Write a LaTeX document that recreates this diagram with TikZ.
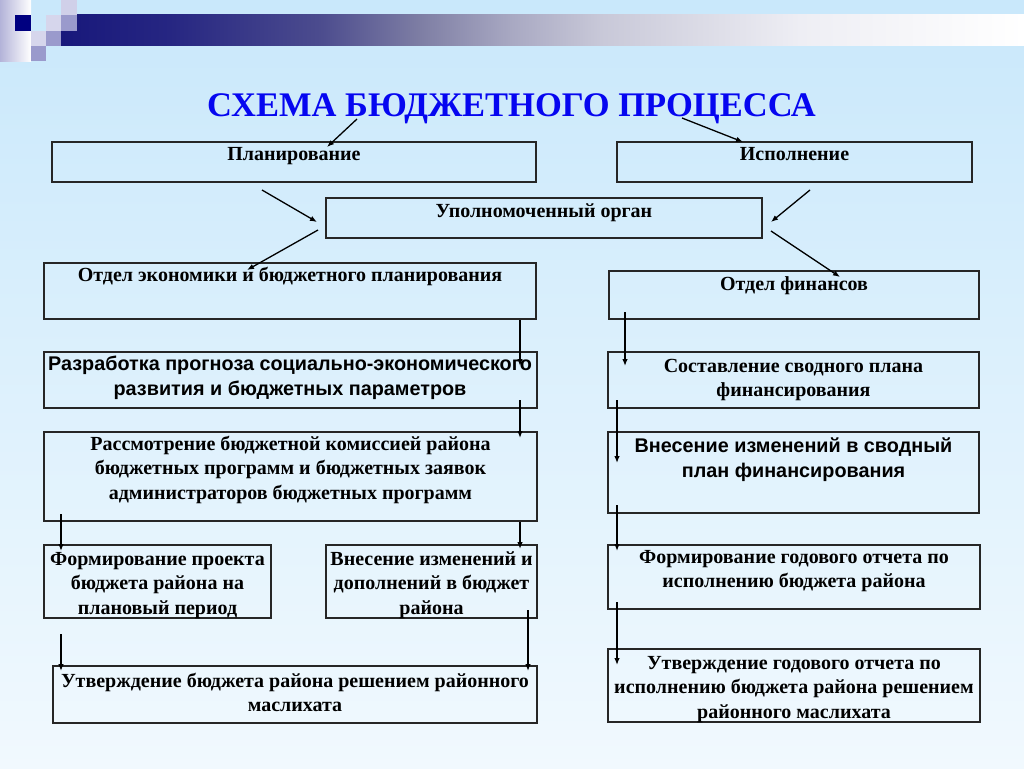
\documentclass[tikz,border=0pt]{standalone}
\usepackage{fontspec}
\setmainfont{Liberation Serif}
\newfontfamily\arialf{Liberation Sans}
\usetikzlibrary{arrows.meta}
\definecolor{bgtop}{HTML}{C9E8FB}
\definecolor{bgbot}{HTML}{F1F9FE}
\definecolor{navy}{HTML}{000080}
\definecolor{titleblue}{HTML}{0606F0}
\definecolor{sqlight}{HTML}{D6D6EC}
\definecolor{sqmid}{HTML}{9A9ACC}
\definecolor{gA}{HTML}{18187B}
\definecolor{gB}{HTML}{262682}
\definecolor{gC}{HTML}{4C4C8E}
\definecolor{gD}{HTML}{7E7EA4}
\definecolor{gE}{HTML}{A8A8C2}
\definecolor{gF}{HTML}{C8C8D8}
\definecolor{gG}{HTML}{EEEEF4}
\tikzset{
  box/.style={draw=black!85, line width=1.4pt, anchor=north west, inner sep=0pt, outer sep=0pt},
  txt/.style={anchor=north, inner sep=0pt, align=center, text=black,
    font=\bfseries\fontsize{20}{24.5}\selectfont},
  atxt/.style={txt, font=\arialf\bfseries\fontsize{19.8}{25}\selectfont},
  arr/.style={-{Latex[length=7pt,width=5.5pt]}, line width=1.3pt, draw=black},
}
\begin{document}
\begin{tikzpicture}[x=1pt,y=-1pt]
% background
\shade[top color=bgtop, bottom color=bgbot] (0,0) rectangle (1024,768);
\useasboundingbox (0,0) rectangle (1024,768);
% decoration: top bar
\shade[left color=gA, right color=gB] (61,15) rectangle (170.5,46);
\shade[left color=gB, right color=gC] (170,15) rectangle (320.5,46);
\shade[left color=gC, right color=gD] (320,15) rectangle (420.5,46);
\shade[left color=gD, right color=gE] (420,15) rectangle (510.5,46);
\shade[left color=gE, right color=gF] (510,15) rectangle (600.5,46);
\shade[left color=gF, right color=gG] (600,15) rectangle (800.5,46);
\shade[left color=gG, right color=white] (800,15) rectangle (1024,46);
% decoration: squares
\shade[left color=sqmid!75!white, right color=white] (0,0) rectangle (31,61);
\fill[navy] (15,15) rectangle (31,31);
\fill[sqlight] (31,31) rectangle (46,46);
\fill[sqmid] (31,46) rectangle (46,61);
\fill[sqlight] (46,15) rectangle (61,31);
\fill[sqmid] (46,31) rectangle (61,46);
\fill[sqlight!90!sqmid] (61,0) rectangle (77,15);
\fill[sqmid] (61,15) rectangle (77,31);
% title
\node[anchor=base, inner sep=0pt, text=titleblue, font=\bfseries\fontsize{34.5}{40}\selectfont] (title) at (511.5,116) {СХЕМА БЮДЖЕТНОГО ПРОЦЕССА};
% boxes
\node[box, minimum width=484pt, minimum height=40pt] (plan) at (52,142) {};
\node[box, minimum width=355pt, minimum height=40pt] (exec) at (617,142) {};
\node[box, minimum width=436pt, minimum height=40pt] (auth) at (326,198) {};
\node[box, minimum width=492pt, minimum height=56pt] (econ) at (44,263) {};
\node[box, minimum width=370pt, minimum height=48pt] (fin) at (609,271) {};
\node[box, minimum width=493pt, minimum height=56pt] (razr) at (44,352) {};
\node[box, minimum width=493pt, minimum height=89pt] (rass) at (44,432) {};
\node[box, minimum width=371pt, minimum height=56pt] (sost) at (608,352) {};
\node[box, minimum width=371pt, minimum height=81pt] (vnsv) at (608,432) {};
\node[box, minimum width=227pt, minimum height=73pt] (form) at (44,545) {};
\node[box, minimum width=211pt, minimum height=73pt] (vnid) at (326,545) {};
\node[box, minimum width=484pt, minimum height=57pt] (utvb) at (53,666) {};
\node[box, minimum width=372pt, minimum height=64pt] (fgod) at (608,545) {};
\node[box, minimum width=372pt, minimum height=73pt] (ugod) at (608,649) {};
% texts (north = first baseline - strut height)
\node[txt] (plan-t) at (294,142.85) {\strut Планирование};
\node[txt] (exec-t) at (794.5,142.85) {\strut Исполнение};
\node[txt] (auth-t) at (544,199.85) {\strut Уполномоченный орган};
\node[txt] (econ-t) at (290,263.85) {\strut Отдел экономики и бюджетного планирования};
\node[txt] (fin-t) at (794,272.85) {\strut Отдел финансов};
\node[atxt] (razr-t) at (290,352.5) {\strut Разработка прогноза социально-экономического\\развития и бюджетных параметров};
\node[txt] (rass-t) at (290.5,432.85) {\strut Рассмотрение бюджетной комиссией района\\бюджетных программ и бюджетных заявок\\администраторов бюджетных программ};
\node[txt] (sost-t) at (793.5,354.85) {\strut Составление сводного плана\\финансирования};
\node[atxt] (vnsv-t) at (793.5,434.5) {\strut Внесение изменений в сводный\\план финансирования};
\node[txt] (form-t) at (157.5,547.85) {\strut Формирование проекта\\бюджета района на\\плановый период};
\node[txt] (vnid-t) at (431.5,547.85) {\strut Внесение изменений и\\дополнений в бюджет\\района};
\node[txt] (utvb-t) at (295,669.85) {\strut Утверждение бюджета района решением районного\\маслихата};
\node[txt] (fgod-t) at (794,545.85) {\strut Формирование годового отчета по\\исполнению бюджета района};
\node[txt] (ugod-t) at (794,651.85) {\strut Утверждение годового отчета по\\исполнению бюджета района решением\\районного маслихата};
% connector end points
\coordinate (c1s) at (357,119);  \coordinate (c1e) at (327,147);
\coordinate (c2s) at (682,118);  \coordinate (c2e) at (743,142);
\coordinate (c3s) at (262,190);  \coordinate (c3e) at (317,222);
\coordinate (c4s) at (318,230);  \coordinate (c4e) at (247,270);
\coordinate (c5s) at (810,190);  \coordinate (c5e) at (771,222);
\coordinate (c6s) at (771,231);  \coordinate (c6e) at (840,277);
\coordinate (c7s) at (520,320);  \coordinate (c7e) at (520,366);
\coordinate (c8s) at (520,400);  \coordinate (c8e) at (520,438);
\coordinate (c9s) at (61,514);   \coordinate (c9e) at (61,551);
\coordinate (c10s) at (520,522); \coordinate (c10e) at (520,549);
\coordinate (c11s) at (61,634);  \coordinate (c11e) at (61,671);
\coordinate (c12s) at (528,610); \coordinate (c12e) at (528,671);
\coordinate (c13s) at (625,312); \coordinate (c13e) at (625,366);
\coordinate (c14s) at (617,400); \coordinate (c14e) at (617,463);
\coordinate (c15s) at (617,505); \coordinate (c15e) at (617,551);
\coordinate (c16s) at (617,602); \coordinate (c16e) at (617,665);
\foreach \i in {1,...,16} {\draw[arr] (c\i s) -- (c\i e);}
\end{tikzpicture}
\end{document}
